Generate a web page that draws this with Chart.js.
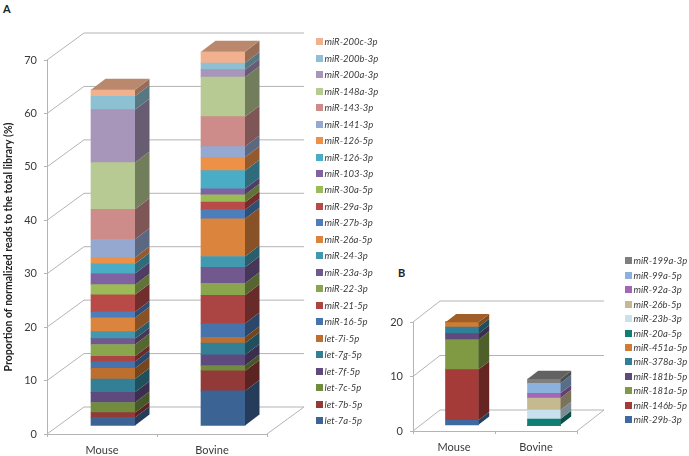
<!DOCTYPE html>
<html>
<head>
<meta charset="utf-8">
<script src="https://cdn.jsdelivr.net/npm/chart.js@4/dist/chart.umd.min.js"></script>
<style>
    html, body { margin: 0; padding: 0; background: #fff; }
    body { position: relative; width: 689px; height: 456px; overflow: hidden; font-family: Lato, sans-serif; }
    canvas { position: absolute; top: 0; }
    .panel { position: absolute; font-weight: bold; font-size: 11px; color: #222; }
    .legend { position: absolute; font-style: italic; font-size: 9.5px; color: #3a3a3a; }
    .legend div { display: flex; align-items: center; white-space: nowrap; }
    .legend i { display: block; width: 7px; height: 7px; margin-right: 1.5px; }
</style>
</head>
<body>
<div class="panel" style="left:3px;top:2px">A</div>
<div class="panel" style="left:398px;top:266px">B</div>
<canvas id="chartA" width="388" height="456" style="left:0"></canvas>
<canvas id="chartB" width="301" height="456" style="left:388px"></canvas>
<div class="legend" id="legendA" style="left:316px;top:33.5px"></div>
<div class="legend" id="legendB" style="left:625px;top:253.7px"></div>
<script>
const categories = ['Mouse', 'Bovine'];

// Panel A, bottom of the stack first
const namesA = ['let-7a-5p', 'let-7b-5p', 'let-7c-5p', 'let-7f-5p', 'let-7g-5p', 'let-7i-5p', 'miR-16-5p', 'miR-21-5p',
    'miR-22-3p', 'miR-23a-3p', 'miR-24-3p', 'miR-26a-5p', 'miR-27b-3p', 'miR-29a-3p', 'miR-30a-5p', 'miR-103-3p',
    'miR-126-3p', 'miR-126-5p', 'miR-141-3p', 'miR-143-3p', 'miR-148a-3p', 'miR-200a-3p', 'miR-200b-3p', 'miR-200c-3p'];
const mouseA = [1.6, 0.9, 1.9, 1.9, 2.5, 2.0, 1.25, 1.0, 2.2, 1.1, 1.3, 2.6, 1.1, 3.2, 1.9, 2.1, 1.8, 1.2, 3.4, 5.6, 8.75, 9.9, 2.5, 1.25];
const bovineA = [6.56, 3.75, 1.0, 2.0, 2.2, 1.1, 2.56, 5.3, 2.25, 3.0, 2.0, 7.07, 1.7, 1.4, 1.4, 1.1, 3.4, 2.5, 2.0, 5.6, 7.4, 1.4, 1.25, 2.1];
const colorsA = ['#3b6393', '#923a38', '#728c3f', '#5f4a7e', '#338096', '#bd6f30', '#4673ab', '#aa4543',
    '#89a54e', '#71588f', '#4198af', '#db843d', '#4c7ebb', '#b84a48', '#9bbb59', '#7f62a1',
    '#4bacc6', '#ee9148', '#95a8d0', '#cd8b8a', '#b7ca93', '#a795ba', '#8cc0d2', '#f2b18e'];
const ticksA = [0, 10, 20, 30, 40, 50, 60, 70];

// Panel B
const namesB = ['miR-29b-3p', 'miR-146b-5p', 'miR-181a-5p', 'miR-181b-5p', 'miR-378a-3p', 'miR-451a-5p',
    'miR-20a-5p', 'miR-23b-3p', 'miR-26b-5p', 'miR-92a-3p', 'miR-99a-5p', 'miR-199a-3p'];
const mouseB = [0.92, 9.3, 5.5, 1.1, 1.2, 0.9, 0, 0, 0, 0, 0, 0];
const bovineB = [0, 0, 0, 0, 0, 0, 1.15, 1.65, 2.2, 0.86, 1.84, 0.8];
const colorsB = ['#3d6aa0', '#a53b39', '#7f9a42', '#5f4a7e', '#2e7f97', '#d07c34',
    '#0f7f73', '#c9e1ee', '#c4b98f', '#a266b5', '#8db1dd', '#7f7f7f'];
const ticksB = [0, 10, 20];

const gridColor = '#b4b4b4';
const textColor = '#3a3a3a';

// Multiply a hex colour, used for the shaded faces of the boxes
const shade = (hex, f) => {
    const n = parseInt(hex.slice(1), 16);
    const c = [n >> 16, (n >> 8) & 255, n & 255].map(v => Math.round(v * f));
    return `rgb(${c[0]},${c[1]},${c[2]})`;
};

const fillPoly = (ctx, color, pts) => {
    ctx.fillStyle = color;
    ctx.beginPath();
    pts.forEach((p, i) => i ? ctx.lineTo(p[0], p[1]) : ctx.moveTo(p[0], p[1]));
    ctx.closePath();
    ctx.fill();
};

// Fake 3D look: back wall and floor lines, bars pushed into the room, side and top faces
const box3d = {
    id: 'box3d',
    beforeDatasetsDraw(chart, args, o) {
        const { ctx, chartArea, scales } = chart;
        const { left, right } = chartArea;
        ctx.save();
        ctx.strokeStyle = gridColor;
        ctx.lineWidth = 1;
        scales.y.ticks.forEach(t => {
            const py = scales.y.getPixelForValue(t.value);
            ctx.beginPath();
            ctx.moveTo(left, py);
            ctx.lineTo(left + o.wallX, py - o.wallY);
            ctx.lineTo(right + o.wallX, py - o.wallY);
            ctx.stroke();
        });
        const y0 = scales.y.getPixelForValue(0);
        ctx.beginPath();
        ctx.moveTo(right, y0);
        ctx.lineTo(right + o.wallX, y0 - o.wallY);
        ctx.stroke();
        ctx.restore();

        // restored in afterDatasetsDraw
        ctx.save();
        ctx.translate(o.shiftX, -o.shiftY);
    },
    afterDatasetsDraw(chart, args, o) {
        const { ctx } = chart;
        const dx = o.depthX, dy = o.depthY;
        categories.forEach((c, idx) => {
            let top = null;
            chart.data.datasets.forEach((ds, d) => {
                const el = chart.getDatasetMeta(d).data[idx];
                if (!ds.data[idx]) return;
                const r = el.x + el.width / 2;
                fillPoly(ctx, shade(ds.backgroundColor, 0.62), [
                    [r, el.y], [r + dx, el.y - dy], [r + dx, el.base - dy], [r, el.base]
                ]);
                top = { el, color: ds.backgroundColor };
            });
            const l = top.el.x - top.el.width / 2, r = top.el.x + top.el.width / 2, y = top.el.y;
            fillPoly(ctx, shade(top.color, 0.77), [[l, y], [r, y], [r + dx, y - dy], [l + dx, y - dy]]);
        });
        ctx.restore();
    }
};

const makeChart = (id, names, mouse, bovine, colors, ticks, cfg) => {
    const datasets = names.map((n, i) => ({
        label: n,
        data: [mouse[i], bovine[i]],
        backgroundColor: colors[i],
        borderWidth: 0,
        barThickness: cfg.barWidth,
        clip: false
    }));
    return new Chart(document.getElementById(id), {
        type: 'bar',
        data: { labels: categories, datasets: datasets },
        plugins: [box3d],
        options: {
            responsive: false,
            animation: false,
            devicePixelRatio: 1,
            layout: { padding: { top: cfg.top, right: cfg.right, left: 0, bottom: 0 } },
            plugins: { legend: { display: false }, tooltip: { enabled: false }, box3d: cfg.box },
            scales: {
                x: {
                    stacked: true,
                    afterFit: s => { s.height = cfg.xHeight; },
                    border: { color: gridColor },
                    grid: { drawOnChartArea: false, color: gridColor, tickLength: 3 },
                    ticks: { color: textColor, font: { family: 'Lato', size: 11 }, padding: 7, maxRotation: 0 }
                },
                y: {
                    stacked: true,
                    min: 0,
                    max: ticks[ticks.length - 1],
                    afterFit: s => { s.width = cfg.yWidth; },
                    afterBuildTicks: s => { s.ticks = ticks.map(v => ({ value: v })); },
                    border: { color: gridColor },
                    grid: { drawOnChartArea: false, color: gridColor, tickLength: 3 },
                    ticks: { color: textColor, font: { family: 'Lato', size: 11 }, padding: 7 },
                    title: cfg.title
                }
            }
        }
    });
};

const renderLegend = (id, names, colors, step) => {
    const box = document.getElementById(id);
    names.slice().reverse().forEach((n, i) => {
        const row = document.createElement('div');
        row.style.height = step + 'px';
        row.innerHTML = `<i style="background:${colors[names.length - 1 - i]}"></i>${n}`;
        box.appendChild(row);
    });
};

makeChart('chartA', namesA, mouseA, bovineA, colorsA, ticksA, {
    barWidth: 44, top: 60, right: 121, xHeight: 22, yWidth: 47,
    box: { wallX: 37, wallY: 27, shiftX: 11, shiftY: 8, depthX: 14.5, depthY: 11 },
    title: {
        display: true,
        text: 'Proportion of normalized reads to the total library (%)',
        color: '#222',
        font: { family: 'Lato', size: 10.5, weight: 'bold' },
        padding: { top: 2, bottom: 0 }
    }
});

makeChart('chartB', namesB, mouseB, bovineB, colorsB, ticksB, {
    barWidth: 33, top: 322, right: 112, xHeight: 25, yWidth: 25,
    box: { wallX: 27, wallY: 21, shiftX: 8, shiftY: 5.7, depthX: 10.7, depthY: 8.3 },
    title: { display: false }
});

renderLegend('legendA', namesA, colorsA, 16.47);
renderLegend('legendB', namesB, colorsB, 14.43);
</script>
</body>
</html>
